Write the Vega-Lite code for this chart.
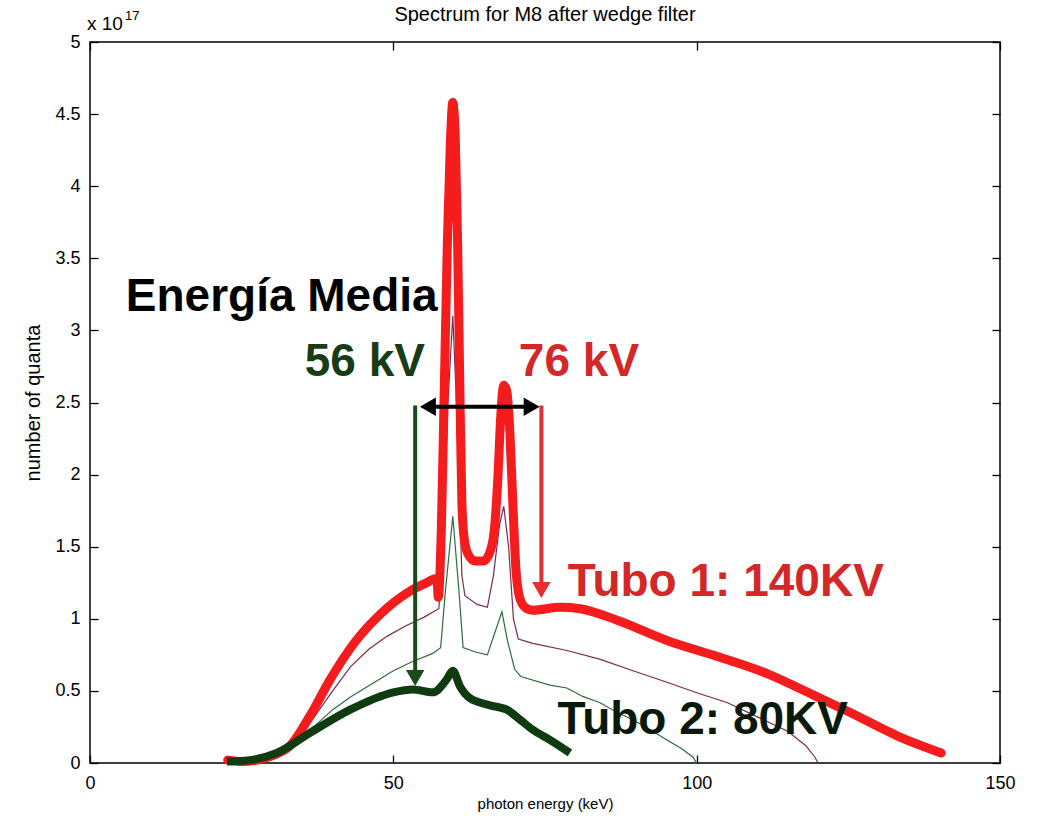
{
  "$schema": "https://vega.github.io/schema/vega-lite/v6.json",
  "width": 910,
  "height": 721,
  "autosize": "none",
  "padding": {"left": 90, "top": 42, "right": 40, "bottom": 57},
  "background": "white",
  "title": {"text": "Spectrum for M8 after wedge filter", "font": "Liberation Sans", "fontSize": 20, "fontWeight": "normal", "color": "black", "offset": 0, "dy": 15},
  "config": {
    "view": {"stroke": "black", "strokeWidth": 1.5},
    "font": "Liberation Sans",
    "axis": {"domain": false, "grid": false, "tickSize": -8, "tickColor": "black", "tickWidth": 1.3, "labelFont": "Liberation Sans", "labelFontSize": 18, "labelColor": "black", "labelFlush": false, "titleFont": "Liberation Sans", "titleFontWeight": "normal", "titleColor": "black"}
  },
  "datasets": {
    "spectra": [
      {"tube": "120 kV", "keV": 22.7, "quanta": 0.01}, {"tube": "120 kV", "keV": 26.4, "quanta": 0.02}, {"tube": "120 kV", "keV": 30, "quanta": 0.06}, {"tube": "120 kV", "keV": 33, "quanta": 0.13}, {"tube": "120 kV", "keV": 36.3, "quanta": 0.28}, {"tube": "120 kV", "keV": 40, "quanta": 0.5}, {"tube": "120 kV", "keV": 43, "quanta": 0.67}, {"tube": "120 kV", "keV": 46, "quanta": 0.79}, {"tube": "120 kV", "keV": 49, "quanta": 0.88}, {"tube": "120 kV", "keV": 52, "quanta": 0.95}, {"tube": "120 kV", "keV": 55, "quanta": 1.01}, {"tube": "120 kV", "keV": 57.5, "quanta": 1.07}, {"tube": "120 kV", "keV": 58.2, "quanta": 1.5}, {"tube": "120 kV", "keV": 59.0, "quanta": 2.5}, {"tube": "120 kV", "keV": 59.8, "quanta": 3.1}, {"tube": "120 kV", "keV": 60.6, "quanta": 2.3}, {"tube": "120 kV", "keV": 61.3, "quanta": 1.3}, {"tube": "120 kV", "keV": 61.8, "quanta": 1.16}, {"tube": "120 kV", "keV": 63.8, "quanta": 1.1}, {"tube": "120 kV", "keV": 65.5, "quanta": 1.08}, {"tube": "120 kV", "keV": 66.5, "quanta": 1.3}, {"tube": "120 kV", "keV": 67.5, "quanta": 1.65}, {"tube": "120 kV", "keV": 68.2, "quanta": 1.78}, {"tube": "120 kV", "keV": 69.0, "quanta": 1.5}, {"tube": "120 kV", "keV": 69.8, "quanta": 1.0}, {"tube": "120 kV", "keV": 70.6, "quanta": 0.86}, {"tube": "120 kV", "keV": 73, "quanta": 0.83}, {"tube": "120 kV", "keV": 78.6, "quanta": 0.78}, {"tube": "120 kV", "keV": 84, "quanta": 0.72}, {"tube": "120 kV", "keV": 89.5, "quanta": 0.64}, {"tube": "120 kV", "keV": 95.1, "quanta": 0.56}, {"tube": "120 kV", "keV": 100.5, "quanta": 0.48}, {"tube": "120 kV", "keV": 105, "quanta": 0.42}, {"tube": "120 kV", "keV": 110, "quanta": 0.32}, {"tube": "120 kV", "keV": 115, "quanta": 0.22}, {"tube": "120 kV", "keV": 118, "quanta": 0.12}, {"tube": "120 kV", "keV": 119.5, "quanta": 0.04}, {"tube": "120 kV", "keV": 120, "quanta": 0.0},
      {"tube": "100 kV", "keV": 22.7, "quanta": 0.01}, {"tube": "100 kV", "keV": 26.4, "quanta": 0.02}, {"tube": "100 kV", "keV": 30, "quanta": 0.06}, {"tube": "100 kV", "keV": 33, "quanta": 0.13}, {"tube": "100 kV", "keV": 36.3, "quanta": 0.23}, {"tube": "100 kV", "keV": 40, "quanta": 0.37}, {"tube": "100 kV", "keV": 43, "quanta": 0.46}, {"tube": "100 kV", "keV": 46.5, "quanta": 0.55}, {"tube": "100 kV", "keV": 50, "quanta": 0.64}, {"tube": "100 kV", "keV": 53, "quanta": 0.7}, {"tube": "100 kV", "keV": 56.5, "quanta": 0.76}, {"tube": "100 kV", "keV": 57.8, "quanta": 0.8}, {"tube": "100 kV", "keV": 58.6, "quanta": 1.2}, {"tube": "100 kV", "keV": 59.8, "quanta": 1.71}, {"tube": "100 kV", "keV": 60.8, "quanta": 1.2}, {"tube": "100 kV", "keV": 61.5, "quanta": 0.8}, {"tube": "100 kV", "keV": 63.5, "quanta": 0.77}, {"tube": "100 kV", "keV": 65.5, "quanta": 0.75}, {"tube": "100 kV", "keV": 66.7, "quanta": 0.9}, {"tube": "100 kV", "keV": 67.9, "quanta": 1.05}, {"tube": "100 kV", "keV": 68.8, "quanta": 0.85}, {"tube": "100 kV", "keV": 70, "quanta": 0.65}, {"tube": "100 kV", "keV": 71, "quanta": 0.6}, {"tube": "100 kV", "keV": 75.8, "quanta": 0.54}, {"tube": "100 kV", "keV": 78.6, "quanta": 0.52}, {"tube": "100 kV", "keV": 81.3, "quanta": 0.46}, {"tube": "100 kV", "keV": 84, "quanta": 0.42}, {"tube": "100 kV", "keV": 86.9, "quanta": 0.35}, {"tube": "100 kV", "keV": 89.5, "quanta": 0.3}, {"tube": "100 kV", "keV": 92, "quanta": 0.24}, {"tube": "100 kV", "keV": 95.1, "quanta": 0.16}, {"tube": "100 kV", "keV": 97.5, "quanta": 0.1}, {"tube": "100 kV", "keV": 99.4, "quanta": 0.04}, {"tube": "100 kV", "keV": 100, "quanta": 0.0},
      {"tube": "140 kV", "keV": 22.7, "quanta": 0.02}, {"tube": "140 kV", "keV": 25, "quanta": 0.01}, {"tube": "140 kV", "keV": 27.5, "quanta": 0.02}, {"tube": "140 kV", "keV": 30, "quanta": 0.05}, {"tube": "140 kV", "keV": 33, "quanta": 0.12}, {"tube": "140 kV", "keV": 36.3, "quanta": 0.33}, {"tube": "140 kV", "keV": 39.6, "quanta": 0.58}, {"tube": "140 kV", "keV": 43.7, "quanta": 0.84}, {"tube": "140 kV", "keV": 47.8, "quanta": 1.03}, {"tube": "140 kV", "keV": 52.7, "quanta": 1.19}, {"tube": "140 kV", "keV": 55, "quanta": 1.24}, {"tube": "140 kV", "keV": 57.2, "quanta": 1.28}, {"tube": "140 kV", "keV": 57.4, "quanta": 1.15}, {"tube": "140 kV", "keV": 57.9, "quanta": 1.6}, {"tube": "140 kV", "keV": 58.4, "quanta": 2.6}, {"tube": "140 kV", "keV": 58.9, "quanta": 3.6}, {"tube": "140 kV", "keV": 59.4, "quanta": 4.3}, {"tube": "140 kV", "keV": 59.8, "quanta": 4.58}, {"tube": "140 kV", "keV": 60.2, "quanta": 4.35}, {"tube": "140 kV", "keV": 60.6, "quanta": 3.6}, {"tube": "140 kV", "keV": 61.0, "quanta": 2.5}, {"tube": "140 kV", "keV": 61.3, "quanta": 1.8}, {"tube": "140 kV", "keV": 61.7, "quanta": 1.55}, {"tube": "140 kV", "keV": 62.3, "quanta": 1.45}, {"tube": "140 kV", "keV": 63.5, "quanta": 1.4}, {"tube": "140 kV", "keV": 64.8, "quanta": 1.4}, {"tube": "140 kV", "keV": 65.8, "quanta": 1.45}, {"tube": "140 kV", "keV": 66.6, "quanta": 1.6}, {"tube": "140 kV", "keV": 67.2, "quanta": 1.95}, {"tube": "140 kV", "keV": 67.7, "quanta": 2.4}, {"tube": "140 kV", "keV": 68.2, "quanta": 2.62}, {"tube": "140 kV", "keV": 68.7, "quanta": 2.58}, {"tube": "140 kV", "keV": 69.2, "quanta": 2.3}, {"tube": "140 kV", "keV": 69.7, "quanta": 1.8}, {"tube": "140 kV", "keV": 70.2, "quanta": 1.35}, {"tube": "140 kV", "keV": 70.8, "quanta": 1.15}, {"tube": "140 kV", "keV": 71.7, "quanta": 1.08}, {"tube": "140 kV", "keV": 73.0, "quanta": 1.06}, {"tube": "140 kV", "keV": 77.5, "quanta": 1.08}, {"tube": "140 kV", "keV": 80.8, "quanta": 1.07}, {"tube": "140 kV", "keV": 86.9, "quanta": 0.99}, {"tube": "140 kV", "keV": 95.1, "quanta": 0.85}, {"tube": "140 kV", "keV": 103.3, "quanta": 0.74}, {"tube": "140 kV", "keV": 111.6, "quanta": 0.62}, {"tube": "140 kV", "keV": 119.8, "quanta": 0.46}, {"tube": "140 kV", "keV": 125.3, "quanta": 0.35}, {"tube": "140 kV", "keV": 133.5, "quanta": 0.18}, {"tube": "140 kV", "keV": 140.3, "quanta": 0.07},
      {"tube": "80 kV", "keV": 22.6, "quanta": 0.01}, {"tube": "80 kV", "keV": 26.4, "quanta": 0.02}, {"tube": "80 kV", "keV": 30.8, "quanta": 0.07}, {"tube": "80 kV", "keV": 36.3, "quanta": 0.21}, {"tube": "80 kV", "keV": 42.9, "quanta": 0.37}, {"tube": "80 kV", "keV": 50, "quanta": 0.49}, {"tube": "80 kV", "keV": 53.2, "quanta": 0.51}, {"tube": "80 kV", "keV": 56.5, "quanta": 0.49}, {"tube": "80 kV", "keV": 58.8, "quanta": 0.58}, {"tube": "80 kV", "keV": 59.8, "quanta": 0.64}, {"tube": "80 kV", "keV": 61, "quanta": 0.53}, {"tube": "80 kV", "keV": 62.6, "quanta": 0.45}, {"tube": "80 kV", "keV": 65.9, "quanta": 0.4}, {"tube": "80 kV", "keV": 68.7, "quanta": 0.37}, {"tube": "80 kV", "keV": 70.9, "quanta": 0.3}, {"tube": "80 kV", "keV": 73, "quanta": 0.23}, {"tube": "80 kV", "keV": 75.8, "quanta": 0.16}, {"tube": "80 kV", "keV": 79.1, "quanta": 0.07}
    ],
    "arrows": [
      {"arrow": "56 kV", "x1": 53.6, "y1": 2.48, "x2": 53.6, "y2": 0.62},
      {"arrow": "76 kV", "x1": 74.4, "y1": 2.48, "x2": 74.4, "y2": 1.23},
      {"arrow": "mid", "x1": 55.5, "y1": 2.47, "x2": 73.0, "y2": 2.47}
    ],
    "heads": [
      {"arrow": "56 kV", "dir": "down", "keV": 53.6, "quanta": 0.59},
      {"arrow": "76 kV", "dir": "down", "keV": 74.4, "quanta": 1.2},
      {"arrow": "mid", "dir": "left", "keV": 55.7, "quanta": 2.47},
      {"arrow": "mid", "dir": "right", "keV": 72.8, "quanta": 2.47}
    ],
    "labels": [
      {"label": "Energía Media", "keV": 31.6, "quanta": 3.23},
      {"label": "56 kV", "keV": 45.3, "quanta": 2.78},
      {"label": "76 kV", "keV": 80.6, "quanta": 2.78},
      {"label": "Tubo 1: 140KV", "keV": 104.8, "quanta": 1.255},
      {"label": "Tubo 2: 80KV", "keV": 101.0, "quanta": 0.3}
    ]
  },
  "resolve": {"scale": {"color": "independent", "shape": "independent"}, "axis": {"x": "independent", "y": "independent"}},
  "layer": [
    {
      "data": {"name": "spectra"},
      "transform": [{"filter": "datum.tube === '120 kV' || datum.tube === '100 kV'"}],
      "mark": {"type": "line", "strokeWidth": 1.2},
      "encoding": {
        "x": {"field": "keV", "type": "quantitative", "scale": {"domain": [0, 150], "nice": false, "zero": false},
          "axis": {"orient": "bottom", "values": [0, 50, 100, 150], "labelPadding": 19, "title": "photon energy (keV)", "titleFontSize": 15, "titlePadding": 4}},
        "y": {"field": "quanta", "type": "quantitative", "scale": {"domain": [0, 5], "nice": false},
          "axis": {"orient": "left", "values": [0, 0.5, 1, 1.5, 2, 2.5, 3, 3.5, 4, 4.5, 5], "format": "~g", "labelPadding": 18, "title": "number of quanta", "titleFontSize": 20, "titlePadding": 11}},
        "color": {"field": "tube", "type": "nominal", "scale": {"domain": ["120 kV", "100 kV"], "range": ["#7a2a50", "#2f6b3a"]}, "legend": null}
      }
    },
    {
      "data": {"name": "spectra"},
      "transform": [{"filter": "datum.tube === '140 kV'"}],
      "mark": {"type": "line", "color": "#f41c1c", "strokeWidth": 9, "interpolate": "monotone", "strokeCap": "round", "strokeJoin": "round"},
      "encoding": {
        "x": {"field": "keV", "type": "quantitative", "axis": null},
        "y": {"field": "quanta", "type": "quantitative", "axis": null}
      }
    },
    {
      "data": {"name": "spectra"},
      "transform": [{"filter": "datum.tube === '80 kV'"}],
      "mark": {"type": "line", "color": "#0e3b10", "strokeWidth": 8, "interpolate": "monotone", "strokeCap": "butt", "strokeJoin": "round"},
      "encoding": {
        "x": {"field": "keV", "type": "quantitative", "axis": null},
        "y": {"field": "quanta", "type": "quantitative", "axis": null}
      }
    },
    {
      "data": {"name": "arrows"},
      "mark": {"type": "rule", "strokeWidth": 4},
      "encoding": {
        "x": {"field": "x1", "type": "quantitative", "axis": null},
        "x2": {"field": "x2"},
        "y": {"field": "y1", "type": "quantitative", "axis": null},
        "y2": {"field": "y2"},
        "color": {"field": "arrow", "type": "nominal", "scale": {"domain": ["56 kV", "76 kV", "mid"], "range": ["#1b4a1b", "#e43030", "#000000"]}, "legend": null}
      }
    },
    {
      "data": {"name": "heads"},
      "mark": {"type": "point", "filled": true, "opacity": 1, "size": 340},
      "encoding": {
        "x": {"field": "keV", "type": "quantitative", "axis": null},
        "y": {"field": "quanta", "type": "quantitative", "axis": null},
        "shape": {"field": "dir", "type": "nominal", "scale": {"domain": ["down", "left", "right"], "range": ["triangle-down", "triangle-left", "triangle-right"]}, "legend": null},
        "color": {"field": "arrow", "type": "nominal", "scale": {"domain": ["56 kV", "76 kV", "mid"], "range": ["#1b4a1b", "#e43030", "#000000"]}, "legend": null}
      }
    },
    {
      "data": {"name": "labels"},
      "mark": {"type": "text", "font": "Liberation Sans", "fontSize": 46, "fontWeight": "bold", "align": "center", "baseline": "middle"},
      "encoding": {
        "x": {"field": "keV", "type": "quantitative", "axis": null},
        "y": {"field": "quanta", "type": "quantitative", "axis": null},
        "text": {"field": "label"},
        "color": {"field": "label", "type": "nominal", "scale": {"domain": ["Energía Media", "56 kV", "76 kV", "Tubo 1: 140KV", "Tubo 2: 80KV"], "range": ["#000000", "#163d16", "#d42828", "#d42828", "#0a1a0a"]}, "legend": null}
      }
    },
    {
      "data": {"values": [{"keV": 0, "quanta": 5, "t": "x 10"}]},
      "mark": {"type": "text", "font": "Liberation Sans", "fontSize": 19, "align": "left", "baseline": "alphabetic", "dy": -12, "dx": -3, "color": "black"},
      "encoding": {
        "x": {"field": "keV", "type": "quantitative", "axis": {"orient": "top", "values": [0, 50, 100, 150], "labels": false, "title": null}},
        "y": {"field": "quanta", "type": "quantitative", "axis": {"orient": "right", "values": [0, 0.5, 1, 1.5, 2, 2.5, 3, 3.5, 4, 4.5, 5], "labels": false, "title": null}},
        "text": {"field": "t"}
      }
    },
    {
      "data": {"values": [{"keV": 0, "quanta": 5, "t": "17"}]},
      "mark": {"type": "text", "font": "Liberation Sans", "fontSize": 13, "align": "left", "baseline": "alphabetic", "dy": -22, "dx": 35, "color": "black"},
      "encoding": {
        "x": {"field": "keV", "type": "quantitative", "axis": null},
        "y": {"field": "quanta", "type": "quantitative", "axis": null},
        "text": {"field": "t"}
      }
    }
  ]
}
